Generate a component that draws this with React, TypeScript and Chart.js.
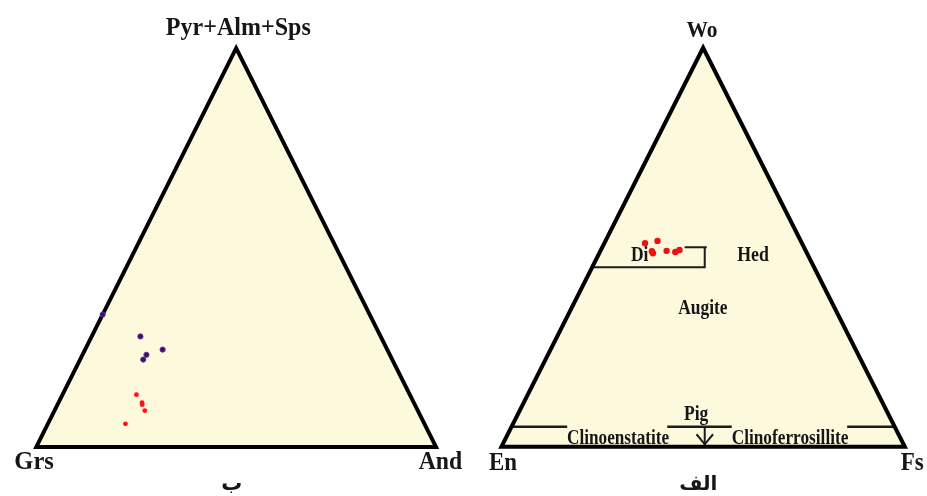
import React, { useEffect, useRef } from "react";
import { Chart, registerables } from "chart.js";

Chart.register(...registerables);

// ---------------- DATA ----------------
// Garnet diagram (left, "ب"): Grs - And - (Pyr+Alm+Sps), in %
const garnetPurpleGrs = [60.1, 56.2, 60.9, 62.3, 66.8];
const garnetPurpleAnd = [12.2, 19.4, 16.0, 15.8, 0.0];
const garnetPurplePAS = [27.7, 24.4, 23.1, 21.9, 33.2];

const garnetRedGrs = [68.4, 68.0, 68.2, 68.3, 74.8];
const garnetRedAnd = [18.5, 20.9, 21.2, 22.6, 19.4];
const garnetRedPAS = [13.1, 11.1, 10.6, 9.1, 5.8];

// Pyroxene diagram (right, "الف"): Wo - En - Fs, in %
const pyxWo = [51.0, 51.6, 48.5, 49.0, 49.1, 48.8, 49.3];
const pyxEn = [38.9, 35.5, 38.2, 38.2, 34.5, 32.5, 31.2];
const pyxFs = [10.1, 12.9, 13.3, 12.8, 16.4, 18.7, 19.5];

// Field boundaries of the pyroxene diagram as [Wo, Fs] pairs (%)
const diLowerBoundary: [number, number][] = [[45, 0], [45, 27.9], [50, 25.4]];
const diTopBoundary: [number, number][] = [[50, 20.4], [50, 25.9]];
const wo5Left: [number, number][] = [[5, 0], [5, 13.8]];
const wo5Middle: [number, number][] = [[5, 38.6], [5, 54.6]];
const wo5Right: [number, number][] = [[5, 83.2], [5, 95]];
const pigShaft: [number, number][] = [[5, 47.9], [0, 50.4]];
const pigArrowHead: [number, number][] = [[3.13, 46.8], [0.62, 50.1], [3.13, 50.9]];

// Vertex / field labels
const garnetVertices = ["Pyr+Alm+Sps", "Grs", "And"];
const pyxVertices = ["Wo", "En", "Fs"];
const pyxFields = ["Di", "Hed", "Augite", "Pig", "Clinoenstatite", "Clinoferrosillite"];
const panelCaptions = ["ب", "الف"];

// ---------------- HELPERS ----------------
// top = apex component, right = bottom-right component (percent)
const toXY = (top: number, right: number) => ({ x: right / 100 + top / 200, y: top / 100 });

const OUTLINE = [
  { x: 0, y: 0 },
  { x: 1, y: 0 },
  { x: 0.5, y: 1 },
  { x: 0, y: 0 },
  { x: 1, y: 0 },
];

type Label = { text: string; x: number; y: number; size: number; width?: number; arabic?: boolean };

const FILL = "#fdf9dc";
const INK = "#161616";

const trianglePlugin = {
  id: "triangleDecor",
  beforeDatasetsDraw(chart: any) {
    const { ctx, scales } = chart;
    const xs = scales.x, ys = scales.y;
    ctx.save();
    ctx.beginPath();
    OUTLINE.slice(0, 3).forEach((p, i) => {
      const px = xs.getPixelForValue(p.x);
      const py = ys.getPixelForValue(p.y);
      if (i === 0) ctx.moveTo(px, py);
      else ctx.lineTo(px, py);
    });
    ctx.closePath();
    ctx.fillStyle = FILL;
    ctx.fill();
    ctx.restore();
  },
  afterDatasetsDraw(chart: any) {
    const { ctx, scales } = chart;
    const labels: Label[] = chart.options.plugins.triangleDecor?.labels || [];
    ctx.save();
    ctx.fillStyle = INK;
    ctx.textAlign = "center";
    ctx.textBaseline = "alphabetic";
    labels.forEach((l) => {
      ctx.font = l.arabic
        ? `bold ${l.size}px "DejaVu Sans", "Noto Sans", sans-serif`
        : `bold ${l.size}px "Liberation Serif", "Times New Roman", serif`;
      const px = scales.x.getPixelForValue(l.x);
      const py = scales.y.getPixelForValue(l.y);
      const w = ctx.measureText(l.text).width;
      const sx = l.width ? l.width / w : 1;
      ctx.save();
      ctx.translate(px, py);
      ctx.scale(sx, 1);
      ctx.fillText(l.text, 0, 0);
      ctx.restore();
    });
    ctx.restore();
  },
};

const lineDs = (data: { x: number; y: number }[], width: number, order = 3, color = INK) => ({
  type: "scatter" as const,
  data,
  showLine: true,
  borderColor: color,
  borderWidth: width,
  pointRadius: 0,
  pointHoverRadius: 0,
  fill: false,
  tension: 0,
  borderJoinStyle: "miter" as const,
  borderCapStyle: "butt" as const,
  order,
});

const seg = (pairs: [number, number][], width: number) =>
  lineDs(pairs.map(([wo, fs]) => toXY(wo, fs)), width, 3, "#1c1c1c");

type PanelProps = {
  left: number;
  width: number;
  xRange: [number, number];
  yRange: [number, number];
  datasets: any[];
  labels: Label[];
};

function Panel({ left, width, xRange, yRange, datasets, labels }: PanelProps) {
  const ref = useRef<HTMLCanvasElement | null>(null);
  useEffect(() => {
    if (!ref.current) return;
    const chart = new Chart(ref.current, {
      type: "scatter",
      data: { datasets },
      options: {
        animation: false,
        responsive: false,
        maintainAspectRatio: false,
        devicePixelRatio: 1,
        events: [],
        layout: { padding: 0 },
        scales: {
          x: { type: "linear", min: xRange[0], max: xRange[1], display: false, bounds: "data" },
          y: { type: "linear", min: yRange[0], max: yRange[1], display: false, bounds: "data" },
        },
        plugins: {
          legend: { display: false },
          tooltip: { enabled: false },
          triangleDecor: { labels },
        } as any,
      },
      plugins: [trianglePlugin],
    });
    return () => chart.destroy();
  }, []);
  return (
    <canvas
      ref={ref}
      width={width}
      height={496}
      style={{ position: "absolute", left, top: 0, width, height: 496 }}
    />
  );
}

export default function App() {
  const garnetDatasets = [
    {
      type: "scatter",
      data: garnetPurpleGrs.map((_, i) => toXY(garnetPurplePAS[i], garnetPurpleAnd[i])),
      pointRadius: 2.6,
      pointBackgroundColor: "#2c1470",
      pointBorderColor: "#7a2a8a",
      pointBorderWidth: 1,
      order: 0,
    },
    {
      type: "scatter",
      data: garnetRedGrs.map((_, i) => toXY(garnetRedPAS[i], garnetRedAnd[i])),
      pointRadius: 2.4,
      pointBackgroundColor: "#ff1212",
      pointBorderWidth: 0,
      order: 0,
    },
    lineDs(OUTLINE, 4, 1, "#000000"),
  ];

  const pyxDatasets = [
    {
      type: "scatter",
      data: pyxWo.map((wo, i) => toXY(wo, pyxFs[i])),
      pointRadius: 3.2,
      pointBackgroundColor: "#ee1111",
      pointBorderWidth: 0,
      order: 0,
    },
    lineDs(OUTLINE, 4, 1, "#000000"),
    seg(diLowerBoundary, 2),
    seg(diTopBoundary, 2),
    seg(wo5Left, 2.6),
    seg(wo5Middle, 2.6),
    seg(wo5Right, 2.6),
    seg(pigShaft, 2),
    seg(pigArrowHead, 2),
  ];

  const garnetLabels: Label[] = [
    { text: garnetVertices[0], x: 0.5055, y: 1.0319, size: 25, width: 145 },
    { text: garnetVertices[1], x: -0.0056, y: -0.0565, size: 26, width: 39.5 },
    { text: garnetVertices[2], x: 1.011, y: -0.0565, size: 26, width: 43.5 },
    { text: panelCaptions[0], x: 0.4889, y: -0.1075, size: 21, arabic: true },
  ];

  const pyxLabels: Label[] = [
    { text: pyxVertices[0], x: 0.497, y: 1.0276, size: 23, width: 31 },
    { text: pyxVertices[1], x: 0.0037, y: -0.0592, size: 26, width: 28 },
    { text: pyxVertices[2], x: 1.0183, y: -0.0592, size: 26, width: 23 },
    { text: pyxFields[0], x: 0.3428, y: 0.4644, size: 20, width: 17.5 },
    { text: pyxFields[1], x: 0.6236, y: 0.4644, size: 20, width: 31.7 },
    { text: pyxFields[2], x: 0.4994, y: 0.3329, size: 20, width: 49.4 },
    { text: pyxFields[3], x: 0.4828, y: 0.0673, size: 20, width: 24.3 },
    { text: pyxFields[4], x: 0.2892, y: 0.0081, size: 20, width: 102 },
    { text: pyxFields[5], x: 0.7155, y: 0.0081, size: 20, width: 116.7 },
    { text: panelCaptions[1], x: 0.488, y: -0.1085, size: 20, arabic: true },
  ];

  return (
    <div
      style={{
        position: "fixed",
        left: 0,
        top: 0,
        width: 927,
        height: 496,
        overflow: "hidden",
        background: "#ffffff",
      }}
    >
      <Panel
        left={0}
        width={464}
        xRange={[-0.07834, 1.05752]}
        yRange={[-0.11057, 1.1081]}
        datasets={garnetDatasets}
        labels={garnetLabels}
      />
      <Panel
        left={464}
        width={463}
        xRange={[-0.08283, 1.04506]}
        yRange={[-0.11344, 1.10974]}
        datasets={pyxDatasets}
        labels={pyxLabels}
      />
    </div>
  );
}
